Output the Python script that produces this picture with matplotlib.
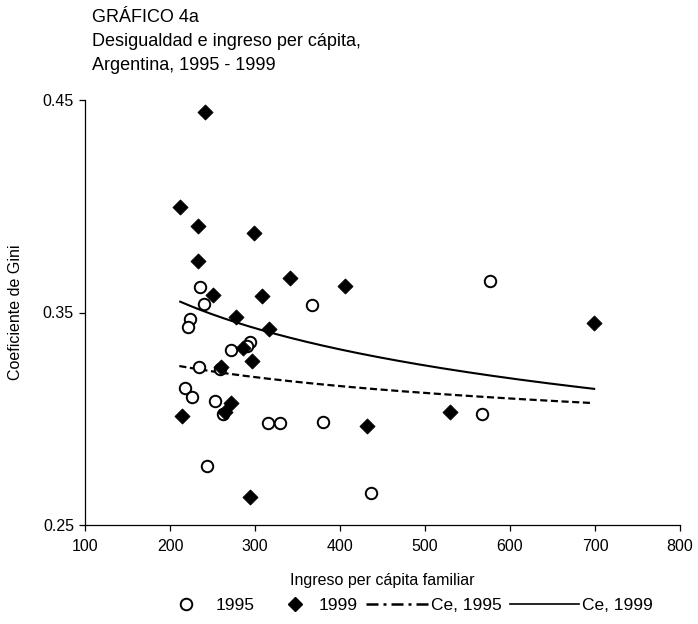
import numpy as np
import matplotlib
matplotlib.use("Agg")
import matplotlib.pyplot as plt
from matplotlib.lines import Line2D

plt.rcParams['font.family'] = ['Liberation Sans', 'DejaVu Sans']

# 1995 observations (ingreso per cápita familiar, Gini)
x_1995 = [235.5, 240.1, 367.6, 223.7, 220.6, 293.8, 290.3, 271.8, 234.7, 258.9,
          217.8, 225.7, 253.1, 262.1, 314.9, 329.8, 380.3, 244.1, 576.9, 566.7, 436.7]
y_1995 = [0.3619, 0.3541, 0.3533, 0.3469, 0.3430, 0.3363, 0.3342, 0.3324, 0.3242, 0.3234,
          0.3146, 0.3104, 0.3085, 0.3022, 0.2979, 0.2979, 0.2983, 0.2779, 0.3650, 0.3024, 0.2649]

# 1999 observations
x_1999 = [241.3, 211.9, 233.5, 298.9, 232.7, 341.6, 406.0, 250.7, 308.7, 277.7,
          316.9, 286.4, 297.0, 259.7, 272.3, 264.8, 213.9, 294.6, 699.4, 529.1, 431.6]
y_1999 = [0.4442, 0.3996, 0.3906, 0.3876, 0.3741, 0.3664, 0.3626, 0.3584, 0.3579, 0.3477,
          0.3421, 0.3331, 0.3272, 0.3245, 0.3073, 0.3033, 0.3013, 0.2633, 0.3449, 0.3032, 0.2964]

# Estimated curves (power trend y = a * x^b), over the range of incomes
ce_1995 = {"a": 0.4157, "b": -0.0461, "xmin": 211, "xmax": 698}
ce_1999 = {"a": 0.6162, "b": -0.1029, "xmin": 212, "xmax": 699}

x_ticks = [100, 200, 300, 400, 500, 600, 700, 800]
y_ticks = [0.25, 0.35, 0.45]

title_lines = ["GRÁFICO 4a", "Desigualdad e ingreso per cápita,", "Argentina, 1995 - 1999"]
legend_labels = ["1995", "1999", "Ce, 1995", "Ce, 1999"]

W, H = 698, 624
fig = plt.figure(figsize=(W/100, H/100), dpi=100)
ax = fig.add_axes([85/W, 1 - 525/H, (680-85)/W, (525-100)/H])

def curve(p):
    xs = np.linspace(p["xmin"], p["xmax"], 200)
    return xs, p["a"] * xs ** p["b"]

dash95 = (0, (3.2, 1.6))
xs, ys = curve(ce_1995)
ax.plot(xs, ys, color='black', lw=1.6, ls=dash95, zorder=2)
xs, ys = curve(ce_1999)
ax.plot(xs, ys, color='black', lw=1.5, ls='-', zorder=2)

ax.scatter(x_1995, y_1995, marker='o', s=68, facecolors='white',
           edgecolors='black', linewidths=1.4, zorder=3)
ax.scatter(x_1999, y_1999, marker='D', s=60, facecolors='black',
           edgecolors='black', linewidths=0.5, zorder=4)

ax.set_xlim(100, 800)
ax.set_ylim(0.25, 0.45)
ax.set_xticks(x_ticks)
ax.set_yticks(y_ticks)
ax.set_xticklabels([str(t) for t in x_ticks])
ax.set_yticklabels(["%.2f" % t for t in y_ticks])
for sp in ['top', 'right']:
    ax.spines[sp].set_visible(False)
for sp in ['left', 'bottom']:
    ax.spines[sp].set_linewidth(0.9)
ax.tick_params(direction='out', length=4, width=0.9, labelsize=11.5)
ax.tick_params(axis='x', pad=6)
ax.tick_params(axis='y', pad=4)

ax.set_xlabel("Ingreso per cápita familiar", fontsize=11.5, labelpad=14)
ax.set_ylabel("Coeficiente de Gini", fontsize=11.5, labelpad=14)

for i, t in enumerate(title_lines):
    fig.text(92/W, 1 - (17 + 24.5*i)/H, t, fontsize=13, va='center', ha='left')

# legend, one entry at a time
handles = [
    Line2D([], [], marker='o', ls='none', markersize=8.3, markerfacecolor='white',
           markeredgecolor='black', markeredgewidth=1.4),
    Line2D([], [], marker='D', ls='none', markersize=7.5, color='black'),
    Line2D([], [], color='black', lw=1.8, ls=(0, (4.8, 2, 1.2, 2))),
    Line2D([], [], color='black', lw=1.2, ls='-'),
]
anchors = [177, 286, 366, 510]
hlen = [1.0, 1.0, 3.6, 4.0]
hpad = [1.2, 0.9, 0.15, 0.15]
for h, lab, xa, hl, hp in zip(handles, legend_labels, anchors, hlen, hpad):
    fig.legend([h], [lab], loc='center left', bbox_to_anchor=(xa/W, 1 - 605/H),
               frameon=False, fontsize=12.5, handlelength=hl, handletextpad=hp,
               borderpad=0, borderaxespad=0)

fig.savefig("out.png", dpi=100)
